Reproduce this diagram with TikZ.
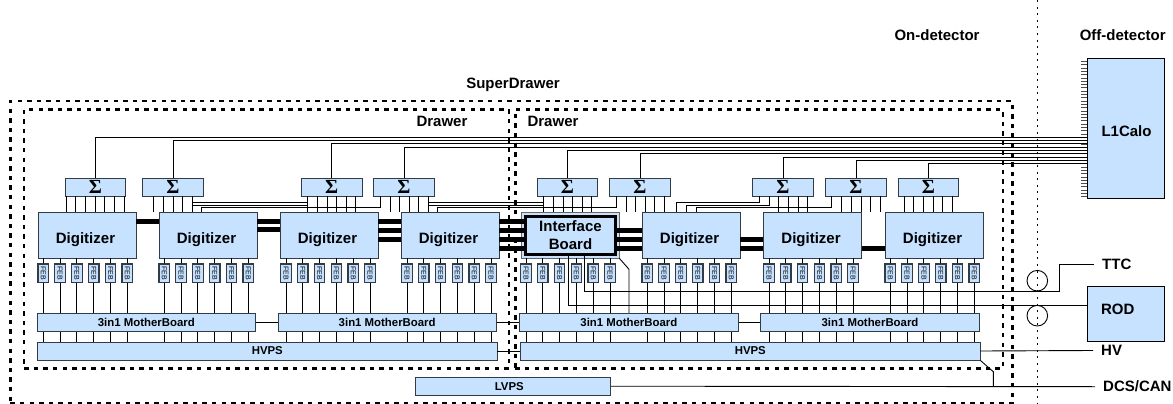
\documentclass[tikz,border=0pt]{standalone}
\usepackage{fontspec}
\setmainfont{Liberation Sans}
\newfontfamily\sigmafont{Liberation Serif}
\usepackage{tikz}
\usetikzlibrary{shapes,arrows,positioning,calc,fit,backgrounds}
\definecolor{boxblue}{RGB}{198,226,255}
\definecolor{boxline}{RGB}{50,60,70}

\begin{document}
\begin{tikzpicture}[x=1pt,y=-1pt,
        block/.style={rectangle, draw=boxline, fill=boxblue, line width=0.9pt, inner sep=0pt, text centered},
        digit/.style={block, minimum width=98pt, minimum height=46pt, font=\fontsize{15}{17}\bfseries\selectfont},
        sumbox/.style={block, minimum width=60.5pt, minimum height=18pt, font=\fontsize{20}{20}\sigmafont\bfseries\selectfont},
        febbox/.style={block, line width=1.2pt, minimum width=10.5pt, minimum height=18.3pt, font=\fontsize{7}{7}\selectfont},
        board/.style={block, minimum height=18pt, font=\fontsize{11.4}{13}\bfseries\selectfont},
        offbox/.style={block, draw=black, minimum width=77.5pt, font=\fontsize{15}{17}\bfseries\selectfont},
        frame/.style={rectangle, draw=black, line width=2.4pt, dash pattern=on 4.4pt off 5.2pt, inner sep=0pt},
        title/.style={font=\fontsize{15}{17}\bfseries\selectfont, inner sep=0pt},
        sigline/.style={font=\fontsize{15}{17}\bfseries\selectfont, inner sep=0pt, inner xsep=8pt, anchor=west},
        ring/.style={circle, draw=black, line width=0.9pt, minimum size=20.6pt, inner sep=0pt},
        wire/.style={draw=black, line width=0.9pt},
        bus/.style={draw=black, line width=5pt}]
        \useasboundingbox (0,0) rectangle (1173,404);

        % Titles
        \node[title] (ondet) at (937, 35) {On-detector};
        \node[title] (offdet) at (1122.7, 35) {Off-detector};
        \node[title] (superlab) at (513, 85) {SuperDrawer};
        \node[title] (drawlab1) at (442, 121) {Drawer};
        \node[title] (drawlab2) at (553, 121) {Drawer};

        % Frames
        \node[frame, minimum width=1002pt, minimum height=302pt] (super) at (511.4, 252) {};
        \node[frame, minimum width=484.7pt, minimum height=259pt] (draw1) at (266.6, 238.8) {};
        \node[frame, minimum width=487.4pt, minimum height=259pt] (draw2) at (759, 238.8) {};

        % Detector boundary
        \coordinate (bndtop) at (1037.3, 0);
        \coordinate (bndbot) at (1037.3, 404);
        \draw[line width=0.9pt, dash pattern=on 2pt off 4.6pt] (bndtop) -- (bndbot);
        \node[ring] (ring1) at (1037.3, 280.7) {};
        \node[ring] (ring2) at (1037.3, 315.7) {};

        % Off-detector
        \node[offbox, minimum height=139.6pt] (l1calo) at (1125.8, 128.5) {\raisebox{-7.9pt}[0pt][0pt]{\hspace*{1.5pt}L1Calo}};
        \node[offbox, minimum height=54.3pt] (rod) at (1125.8, 313.8) {\raisebox{-0.6pt}[0pt][0pt]{\hspace*{-16pt}ROD}};
        \node[sigline] (ttc) at (1094, 264.3) {TTC};
        \node[sigline] (hv) at (1093, 350.5) {HV};
        \node[sigline] (dcs) at (1095, 386.7) {DCS/CAN};
        \foreach \k in {0,...,41}
            \draw[draw=black!70, line width=0.7pt] (l1calo.west |- 0,61.4+\k*3.3) -- ++(-6,0);

        % Digitizers
        \node[block, draw=black!60, line width=0.7pt, minimum width=98pt, minimum height=46pt] (ibout) at (570, 235) {};
        \foreach \i/\x in {1/87, 2/208, 3/329, 4/450, 5/691, 6/812.5, 7/934}
            \node[digit] (dig\i) at (\x, 235) {\raisebox{-8.7pt}[0pt][0pt]{\hspace*{-3pt}Digitizer}};
        \node[digit, draw=black, line width=3pt, minimum width=89.5pt, minimum height=38.5pt, align=center] (ib) at (570.5, 235.5) {Interface\\[1pt]Board};

        % Digitizer links
        \foreach \a/\b/\y in {dig1/dig2/221, dig2/dig3/221, dig2/dig3/229.5, dig3/dig4/221, dig3/dig4/230, dig3/dig4/239,
                dig4/ib/221, dig4/ib/230, dig4/ib/239, dig4/ib/248,
                ib/dig5/230, ib/dig5/239, ib/dig5/248, dig5/dig6/239, dig5/dig6/248, dig6/dig7/248}
            \draw[bus] (\a.east |- 0,\y) -- (\b.west |- 0,\y);

        % Motherboards and power
        \node[board, minimum width=218pt] (mb1) at (146.3, 322.3) {3in1 MotherBoard};
        \node[board, minimum width=218.3pt] (mb2) at (387.2, 322.3) {3in1 MotherBoard};
        \node[board, minimum width=218.3pt] (mb3) at (628.9, 322.3) {3in1 MotherBoard};
        \node[board, minimum width=218.6pt] (mb4) at (870, 322.3) {3in1 MotherBoard};
        \node[board, minimum width=459.3pt] (hv1) at (267.3, 351) {HVPS};
        \node[board, minimum width=459.3pt] (hv2) at (750.3, 351) {HVPS};
        \node[board, minimum width=195.7pt] (lvps) at (512.8, 386.2) {\hspace*{-7pt}LVPS};

        \draw[wire] (mb1) -- (mb2);
        \draw[wire] (mb2) -- (mb3);
        \draw[wire] (mb3) -- (mb4);
        \draw[wire] (hv1) -- (hv2);
        \draw[wire] (hv2.east) -- (hv.west);
        \draw[wire] (lvps.east) -- (dcs.west);
        \coordinate (dcsknee) at (993.3, 371.7);
        \draw[wire] (hv2.south east) -- (dcsknee) -- (dcsknee |- dcs.west);

        % Interface Board outputs
        \coordinate (ibknee) at (629, 269.3);
        \draw[wire] (ibout.south east) -- (ibknee) -- (ibknee |- mb3.north);
        \coordinate (ttcknee) at (1059, 291.7);
        \draw[wire] (568.3,0 |- ib.south) |- (rod.west |- 0,305.3);
        \draw[wire] (584.3,0 |- ib.south) |- (ttcknee) |- (ttc.west);

        % FEBs
        \foreach \g/\x/\dg/\mb/\hv in {a/43.3/dig1/mb1/hv1, b/164.3/dig2/mb1/hv1, c/286/dig3/mb2/hv1, d/407/dig4/mb2/hv1,
                e/526/ib/mb3/hv2, f/647.3/dig5/mb3/hv2, g/769/dig6/mb4/hv2, h/890.3/dig7/mb4/hv2}
            \foreach \k in {0,...,5} {
                \node[febbox] (feb\g\k) at ({\x+\k*16.8}, 273.2) {\rotatebox{-90}{FEB}};
                \draw[wire] (feb\g\k.north) -- (feb\g\k.north |- 0,258);
                \draw[wire] (feb\g\k.south) -- (feb\g\k.south |- \mb.north);
                \draw[wire] (feb\g\k.south |- \mb.south) -- (feb\g\k.south |- \hv.north);
            }

        % Sums
        \foreach \i/\x in {1/95.3, 2/173, 3/331.7, 4/404, 5/567.5, 6/640, 7/783, 8/856, 9/928.5}
            \node[sumbox] (sig\i) at (\x, 187) {\raisebox{-1pt}{Σ}};

        % Sum inputs
        \foreach \i/\xs/\n in {1/66.3/6, 2/153.7/4, 3/307.7/5, 4/390/4, 5/543.7/5, 6/626/4, 7/778.7/3, 8/841.7/4, 9/904.3/5}
            \foreach \k in {0,...,\n}
                \draw[wire] (\xs+\k*9.63,0 |- sig\i.south) -- (\xs+\k*9.63,212);

        % Cross connections between sums
        \coordinate (tapa) at (192.3, 202);
        \coordinate (tapb) at (307.7, 202);
        \coordinate (tapc) at (192.3, 205);
        \coordinate (tapd) at (307.7, 205);
        \draw[wire] (tapa) -- (tapb);
        \draw[wire] (tapc) -- (tapd);
        \coordinate (tape) at (428.3, 202);
        \coordinate (tapf) at (543.7, 202);
        \coordinate (tapg) at (428.3, 205);
        \coordinate (taph) at (543.7, 205);
        \draw[wire] (tape) -- (tapf);
        \draw[wire] (tapg) -- (taph);
        \draw[wire] (201.7,0 |- dig2.north) |- (380,207) -- (380,0 |- sig4.south);
        \draw[wire] (437.3,0 |- dig4.north) |- (616.7,207) -- (616.7,0 |- sig6.south);
        \draw[wire] (676.7,0 |- dig5.north) |- (759.3,202) -- (759.3,0 |- sig7.south);
        \draw[wire] (686,0 |- dig5.north) |- (769,205) -- (769,0 |- sig7.south);
        \draw[wire] (696,0 |- dig5.north) |- (831.7,207) -- (831.7,0 |- sig8.south);

        % Sum outputs to L1Calo
        \foreach \i/\y in {1/137.3, 2/140.6, 3/143.9, 4/147.2, 5/150.5, 6/153.8, 7/157.1, 8/160.4, 9/163.7}
            \draw[wire] (sig\i.north) |- (l1calo.west |- 0,\y);

    \end{tikzpicture}
\end{document}
